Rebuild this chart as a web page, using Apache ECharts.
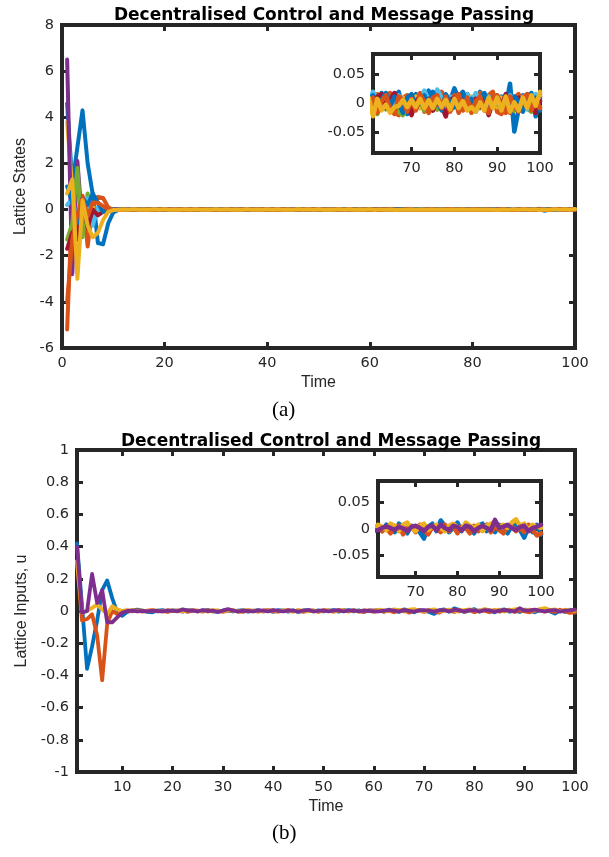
<!DOCTYPE html>
<html>
<head>
<meta charset="utf-8">
<script src="https://cdn.jsdelivr.net/npm/echarts@6/dist/echarts.min.js"></script>
<style>
html,body{margin:0;padding:0;background:#fff;}
#chart{width:609px;height:857px;}
</style>
</head>
<body>
<div id="chart"></div>
<script>
// ---------- DATA ----------
const timeSteps = Array.from({length: 100}, (_, i) => i + 1);

const titleText = 'Decentralised Control and Message Passing';
const topXTicks = [0, 20, 40, 60, 80, 100];
const topYTicks = [-6, -4, -2, 0, 2, 4, 6, 8];
const bottomXTicks = [10, 20, 30, 40, 50, 60, 70, 80, 90, 100];
const bottomYTicks = [-1, -0.8, -0.6, -0.4, -0.2, 0, 0.2, 0.4, 0.6, 0.8, 1];
const insetXTicks = [70, 80, 90, 100];
const insetYTicks = [-0.05, 0, 0.05];

// (a) Lattice states, 10 trajectories
const stateBlue1 = [4.6,1.1,2.7,4.3,2.0,0.65,-1.45,-1.5,-0.6,-0.12,
 -.02,.01,.005,-.01,.012,-.004,.008,-.012,.006,.01,
 -.008,.004,.014,-.01,.002,-.015,.009,.011,-.006,.003,
 .012,-.011,.005,-.003,.016,-.008,.002,.01,-.013,.007,
 .004,-.009,.013,.001,-.012,.008,.015,-.005,-.01,.006,
 .011,-.014,.003,.009,-.007,.012,-.002,-.011,.014,.005,
 .012,-.008,.018,.002,-.012,.01,.02,-.006,-.018,.008,
 .016,-.004,.012,.022,-.01,.006,.014,-.012,.004,.026,
 .008,-.01,.016,.004,-.008,.02,.006,-.012,.01,.002,
 .012,-.006,.034,-.048,-.01,.014,.006,.018,-.022,.012];
const stateOrange1 = [-5.2,0.4,-0.9,0.6,-1.6,0.2,0.55,0.5,0.1,-0.02,
 .01,-.012,.008,.003,-.01,.014,-.006,.002,.011,-.009,
 .006,.013,-.004,-.011,.009,.002,-.013,.01,.005,-.007,
 .012,-.003,-.014,.008,.011,-.006,.003,.013,-.01,.004,
 -.008,.01,.006,-.013,.009,.002,-.011,.014,-.004,.007,
 .01,-.012,.005,.013,-.008,.002,.011,-.01,.006,.012,
 -.014,.016,-.008,.012,.018,-.016,-.02,.01,.014,-.012,
 .008,.018,-.014,.004,.016,-.01,.02,.006,-.012,.014,
 -.016,.01,.016,-.008,.006,.018,-.012,.014,.02,-.014,
 -.018,.012,-.016,.01,.016,-.012,.014,.008,-.01,.016];
const stateYellow1 = [3.8,0.9,-0.4,0.2,-0.1,0.1,0.0,-0.05,0.0,0.0,
 .004,-.006,.007,-.003,.005,-.008,.006,.002,-.005,.007,
 -.004,.006,.002,-.007,.005,-.003,.008,-.006,.003,.004,
 -.007,.005,.003,-.006,.008,-.002,.004,-.007,.006,-.003,
 .005,.002,-.006,.007,-.004,.003,.006,-.008,.004,.002,
 -.005,.007,-.003,.006,.002,-.006,.005,-.004,.007,-.002,
 .006,-.01,.012,-.004,.008,-.012,.004,.01,-.006,.002,
 .012,-.008,.006,-.002,.01,-.01,.008,.004,-.012,.006,
 -.004,.01,-.008,.012,-.002,.006,-.01,.008,.002,-.006,
 .01,-.004,.008,-.012,.006,.002,-.008,.01,-.004,.012];
const statePurple = [6.5,-2.8,2.1,-0.8,0.3,-0.25,0.1,0.05,0.0,-0.01,
 .004,-.003,.006,-.005,.002,.007,-.004,-.006,.003,.005,
 -.002,.006,-.007,.001,.004,-.005,.008,-.003,-.002,.006,
 -.006,.003,.005,-.004,.007,-.001,-.006,.004,.002,-.005,
 .006,-.003,.004,-.007,.002,.005,-.004,.006,-.002,-.005,
 .003,.007,-.005,.002,-.006,.004,.005,-.003,.006,-.004,
 .008,-.01,.012,-.006,.004,-.012,.01,.002,-.008,.006,
 -.01,.012,-.004,.008,-.012,.006,-.002,.01,-.008,.004,
 .012,-.006,.002,-.01,.008,-.004,.01,-.012,.006,.002,
 -.008,.01,-.004,.006,-.01,.012,-.006,.004,-.01,.008];
const stateGreen = [-1.3,-0.6,1.8,-1.2,0.7,-0.6,0.0,0.05,0.0,0.0,
 -.006,.004,-.008,.003,.005,-.007,.002,-.004,.006,-.003,
 .005,-.006,.002,.007,-.005,.003,-.008,.004,.002,-.006,
 .003,-.005,.007,-.002,-.006,.004,.005,-.007,.003,-.004,
 .006,-.003,-.005,.004,.007,-.006,.002,-.004,.005,-.007,
 .004,-.002,.006,-.005,.003,-.007,.004,.006,-.004,.002,
 -.012,-.018,.004,-.01,-.006,.002,-.014,-.02,-.004,.006,
 -.008,.004,-.012,-.002,.006,-.01,-.004,.008,-.012,-.006,
 .004,-.01,-.002,-.014,.002,-.008,.006,-.012,-.004,.002,
 -.01,-.004,.006,-.012,-.002,.004,-.008,-.014,.002,-.006];
const stateLightBlue = [0.2,0.5,-0.5,0.3,0.5,-0.7,0.1,0.1,0.0,0.0,
 .005,-.004,.008,-.006,.003,.007,-.005,.002,-.007,.006,
 -.003,.008,-.004,.005,-.008,.002,.006,-.005,.007,-.002,
 .004,-.007,.006,.003,-.005,.008,-.002,-.006,.005,.003,
 -.008,.004,.007,-.003,.005,-.006,.002,.008,-.004,.003,
 -.005,.007,.002,-.006,.008,-.003,.004,-.007,.005,.002,
 .02,.008,-.006,.012,.004,-.008,.014,.006,-.01,.008,
 .002,.012,.022,.006,-.004,.024,.01,-.006,.012,.004,
 -.008,.01,.016,.002,.018,-.004,.008,.012,-.006,.01,
 .004,-.008,.014,.006,-.004,.012,-.01,.008,.016,.004];
const stateDarkRed = [-1.7,-1.0,-1.3,0.5,-0.8,0.0,-0.25,-0.1,-0.02,0.0,
 -.005,.006,-.003,.007,-.006,.002,.005,-.008,.004,-.002,
 .006,-.005,.003,-.007,.008,-.004,.002,.006,-.005,.003,
 -.007,.005,.002,-.006,.004,.007,-.003,-.005,.008,-.002,
 .003,-.006,.005,.002,-.008,.006,-.004,.003,.007,-.005,
 -.002,.006,-.007,.004,.003,-.005,.008,-.002,-.006,.004,
 -.006,.012,.016,-.008,.006,.018,.002,-.01,-.004,-.02,
 .004,.012,-.006,.008,-.012,.01,-.004,-.022,.006,.01,
 -.008,.012,.004,-.01,.008,-.006,.014,-.02,.002,.012,
 -.006,.016,-.012,.004,.01,-.008,.006,.012,-.016,.004];
const stateBlue2 = [1.0,0.3,-0.6,0.5,0.2,0.7,0.3,-0.1,-0.05,0.0,
 .006,-.007,.003,.005,-.004,.008,-.006,.002,.007,-.005,
 .003,-.008,.006,.002,-.005,.007,-.003,.004,-.006,.008,
 -.002,.005,-.007,.006,.003,-.004,.008,-.005,.002,.006,
 -.007,.004,.002,-.006,.008,-.003,.005,-.008,.006,.002,
 -.004,.007,-.006,.003,.005,-.007,.004,.002,-.005,.008,
 .014,-.012,.006,.018,-.006,.012,.002,-.016,.01,.016,
 -.008,.004,.014,-.01,.02,.006,-.012,.016,.002,-.006,
 .012,.02,-.004,.008,-.014,.01,.018,-.002,.006,.014,
 -.01,.008,-.006,.012,.004,-.014,.016,-.004,.01,-.012];
const stateOrange2 = [-4.0,-1.3,-0.2,0.5,-0.3,0.3,0.3,0.15,0.02,0.0,
 -.004,.007,-.006,.002,.008,-.005,.003,-.007,.006,.004,
 -.008,.005,.002,-.006,.007,-.003,.004,.008,-.005,.002,
 .006,-.007,.003,.005,-.008,.004,-.002,.006,.003,-.006,
 .007,-.004,.002,.008,-.006,.003,.005,-.007,.004,-.002,
 .005,-.008,.006,.003,-.004,.007,-.006,.002,.008,-.005,
 .01,-.016,.004,.014,-.01,-.018,.012,.006,-.014,.008,
 -.012,.016,.002,-.016,.01,.014,-.008,.012,-.014,.006,
 .016,-.012,.01,-.016,.004,.012,-.01,-.016,.008,.014,
 -.006,-.016,.012,-.004,-.014,.01,.016,-.012,.006,-.008];
const stateYellow2 = [0.7,1.3,-3.0,0.4,-0.7,-1.2,-1.0,-0.45,-0.1,-0.02,
 -.01,.008,-.006,.01,-.008,.006,-.011,.009,-.004,.012,
 -.009,.007,-.012,.01,-.005,.011,-.01,.006,-.008,.012,
 -.006,.009,-.011,.008,-.007,.012,-.009,.005,-.01,.011,
 -.008,.01,-.012,.007,-.006,.011,-.01,.009,-.005,.012,
 -.009,.008,-.011,.01,-.007,.012,-.008,.006,-.012,.01,
 -.022,.008,-.012,-.002,-.016,-.006,-.004,.006,-.006,.006,
 -.006,.008,-.008,.006,-.008,.008,-.006,.006,-.01,.008,
 -.008,.004,-.012,-.006,-.014,.002,-.012,.01,-.008,.01,
 -.012,.012,-.014,.002,-.012,.01,-.008,.014,-.004,.02];

// (b) Lattice inputs, 4 trajectories
const inputBlue = [.42,.03,-.36,-.22,-.06,.13,.19,.08,-.01,-.03,
 -.005,.004,.008,.002,-.006,-.008,.003,.006,-.002,.004,
 .002,-.004,.006,.003,-.003,.002,.005,-.002,-.006,.003,
 .004,-.003,.002,.006,-.004,.001,.005,-.002,.003,-.005,
 .006,.002,-.004,.004,-.006,.003,.005,-.002,.004,-.003,
 .002,.005,-.004,.003,.006,-.002,.004,-.005,.003,.002,
 .004,-.004,.008,.002,-.006,.01,.004,-.008,.006,.002,
 -.006,-.018,.004,.01,-.004,.016,.006,-.006,.002,.012,
 -.004,.008,.002,-.008,.006,.01,-.004,.002,-.006,.008,
 .004,-.008,.006,.01,-.002,-.016,.004,-.006,.008,-.01];
const inputOrange = [.3,-.06,-.05,-.02,-.15,-.43,-.08,0,-.02,0,
 .004,-.002,.005,-.004,.002,.006,-.003,.001,-.005,.003,
 -.002,.004,-.005,.003,.002,-.004,.006,-.002,.003,-.005,
 .002,.005,-.003,-.006,.004,.002,-.004,.003,.005,-.002,
 -.004,.003,.006,-.002,.004,-.005,.002,.003,-.006,.004,
 .003,-.004,.002,.005,-.003,.004,-.002,-.005,.003,.002,
 .006,-.004,.002,-.008,.004,.006,-.01,.002,.004,-.006,
 .008,-.002,-.01,.004,.002,-.006,.008,-.004,.006,-.008,
 .004,.002,-.008,.006,-.004,.002,.008,-.006,.004,-.002,
 -.008,.006,.004,-.004,.002,-.006,.008,-.002,-.012,-.008];
const inputYellow = [.31,-.01,0,.02,.04,.01,-.02,.03,.01,0,
 .003,.006,-.002,.004,-.003,.005,.002,-.004,.006,.001,
 .004,-.003,.002,.006,-.002,.003,-.004,.005,.002,-.003,
 .005,.002,-.003,.004,.006,-.002,.003,-.004,.002,.005,
 -.003,.004,.002,-.005,.006,.003,-.002,.004,-.003,.005,
 .002,-.004,.005,.003,-.002,.006,-.003,.004,.002,-.005,
 .008,.004,-.002,.01,.006,-.004,.008,.012,.002,-.004,
 .006,.01,-.002,.004,.008,.002,-.004,.006,.01,.004,
 -.002,.012,.006,.002,.008,-.004,.006,.01,.014,.004,
 .008,.002,.012,.018,.006,.01,-.002,.008,.004,.002];
const inputPurple = [.4,-.01,0,.23,.05,.13,-.07,-.07,-.04,-.01,
 0,.002,-.002,.001,-.003,.002,0,-.002,.003,.001,
 -.001,.01,.002,.004,-.002,.006,-.001,.003,-.005,.002,
 .012,.003,-.004,.002,.001,-.003,.004,.002,-.002,.005,
 .001,-.003,.004,.002,-.004,.003,.006,-.002,.001,.004,
 -.002,.003,.005,-.003,.002,.004,-.002,.003,.001,-.003,
 -.002,.002,.005,.002,-.002,.004,.001,-.004,.004,.006,
 .002,-.004,.004,.006,-.002,.008,.002,-.002,.006,.004,
 -.003,.006,.004,-.004,.002,.006,.002,-.002,.017,.002,
 .004,.008,.002,-.002,.004,.006,-.004,.002,.004,.008];

const stateSeries = [stateBlue1, stateOrange1, stateYellow1, statePurple, stateGreen,
  stateLightBlue, stateDarkRed, stateBlue2, stateOrange2, stateYellow2];
const inputSeries = [inputBlue, inputOrange, inputYellow, inputPurple];

// ---------- STYLE ----------
const C = ['#0072BD','#D95319','#EDB120','#7E2F8E','#77AC30','#4DBEEE','#A2142F'];
const AX = '#262626';
const TICKFONT = 'DejaVu Sans';
const NAMEFONT = 'Liberation Sans';

function pairs(arr){ return arr.map((v,i)=>[timeSteps[i], v]); }

function tickCfg(ticks){
  return {show:true, inside:true, length:6, lineStyle:{color:AX, width:3}, customValues:ticks};
}
function xAxes(grid, min, max, ticks, showName){
  return [{
    type:'value', gridIndex:grid, position:'bottom', min:min, max:max,
    axisLine:{show:false, onZero:false}, splitLine:{show:false},
    axisTick:tickCfg(ticks),
    axisLabel:{show:true, customValues:ticks, color:AX, fontFamily:TICKFONT, fontSize:14.5, margin:8},
    name: showName ? 'Time' : '', nameLocation:'middle', nameGap:27,
    nameTextStyle:{color:AX, fontFamily:NAMEFONT, fontSize:16}
  },{
    type:'value', gridIndex:grid, position:'top', min:min, max:max,
    axisLine:{show:false, onZero:false}, splitLine:{show:false},
    axisTick:tickCfg(ticks),
    axisLabel:{show:false}
  }];
}
function yAxes(grid, min, max, ticks, name, gap){
  return [{
    type:'value', gridIndex:grid, position:'left', min:min, max:max,
    axisLine:{show:false, onZero:false}, splitLine:{show:false},
    axisTick:tickCfg(ticks),
    axisLabel:{show:true, customValues:ticks, color:AX, fontFamily:TICKFONT, fontSize:14.5, margin:8},
    name: name || '', nameLocation:'middle', nameGap:gap || 20,
    nameTextStyle:{color:AX, fontFamily:NAMEFONT, fontSize:16}
  },{
    type:'value', gridIndex:grid, position:'right', min:min, max:max,
    axisLine:{show:false, onZero:false}, splitLine:{show:false},
    axisTick:tickCfg(ticks),
    axisLabel:{show:false}
  }];
}

const gridStyle = {show:true, borderWidth:4, borderColor:AX, backgroundColor:'#fff', containLabel:false};
const grids = [
  Object.assign({left:62, top:25, width:513, height:323}, gridStyle),
  Object.assign({left:373, top:54, width:167, height:99}, gridStyle),
  Object.assign({left:77, top:450, width:498, height:322}, gridStyle),
  Object.assign({left:378, top:481, width:163, height:96}, gridStyle)
];

const xAxis = [].concat(
  xAxes(0, 0, 100, topXTicks, true),
  xAxes(1, 61, 100, insetXTicks, false),
  xAxes(2, 1, 100, bottomXTicks, true),
  xAxes(3, 61, 100, insetXTicks, false)
);
const yAxis = [].concat(
  yAxes(0, -6, 8, topYTicks, 'Lattice States', 27),
  yAxes(1, -0.085, 0.085, insetYTicks),
  yAxes(2, -1, 1, bottomYTicks, 'Lattice Inputs, u', 42),
  yAxes(3, -0.09, 0.09, insetYTicks)
);

const series = [];
function addLines(list, xi, yi, width){
  list.forEach((arr, k) => {
    series.push({
      type:'line', xAxisIndex:xi, yAxisIndex:yi, data:pairs(arr),
      symbol:'none', clip:true, z: 2 + k*0.01,
      lineStyle:{color:C[k % 7], width:width, cap:'round', join:'round'}
    });
  });
}
addLines(stateSeries, 0, 0, 4);
addLines(stateSeries, 2, 2, 4.5);
addLines(inputSeries, 4, 4, 3.8);
addLines(inputSeries, 6, 6, 4.5);

const option = {
  animation:false,
  backgroundColor:'#fff',
  title:[
    {text:titleText, left:319, top:2, textAlign:'center',
     textStyle:{fontFamily:'DejaVu Sans', fontSize:17, fontWeight:'bold', color:'#000'}},
    {text:titleText, left:326, top:428, textAlign:'center',
     textStyle:{fontFamily:'DejaVu Sans', fontSize:17, fontWeight:'bold', color:'#000'}}
  ],
  grid:grids, xAxis:xAxis, yAxis:yAxis, series:series,
  graphic:[
    {type:'text', left:272, top:400, style:{text:'(a)', font:'21px "Liberation Serif"', fill:'#000'}},
    {type:'text', left:272, top:823, style:{text:'(b)', font:'21px "Liberation Serif"', fill:'#000'}}
  ]
};

const chart = echarts.init(document.getElementById('chart'), null, {renderer:'canvas'});
chart.setOption(option);
</script>
</body>
</html>
